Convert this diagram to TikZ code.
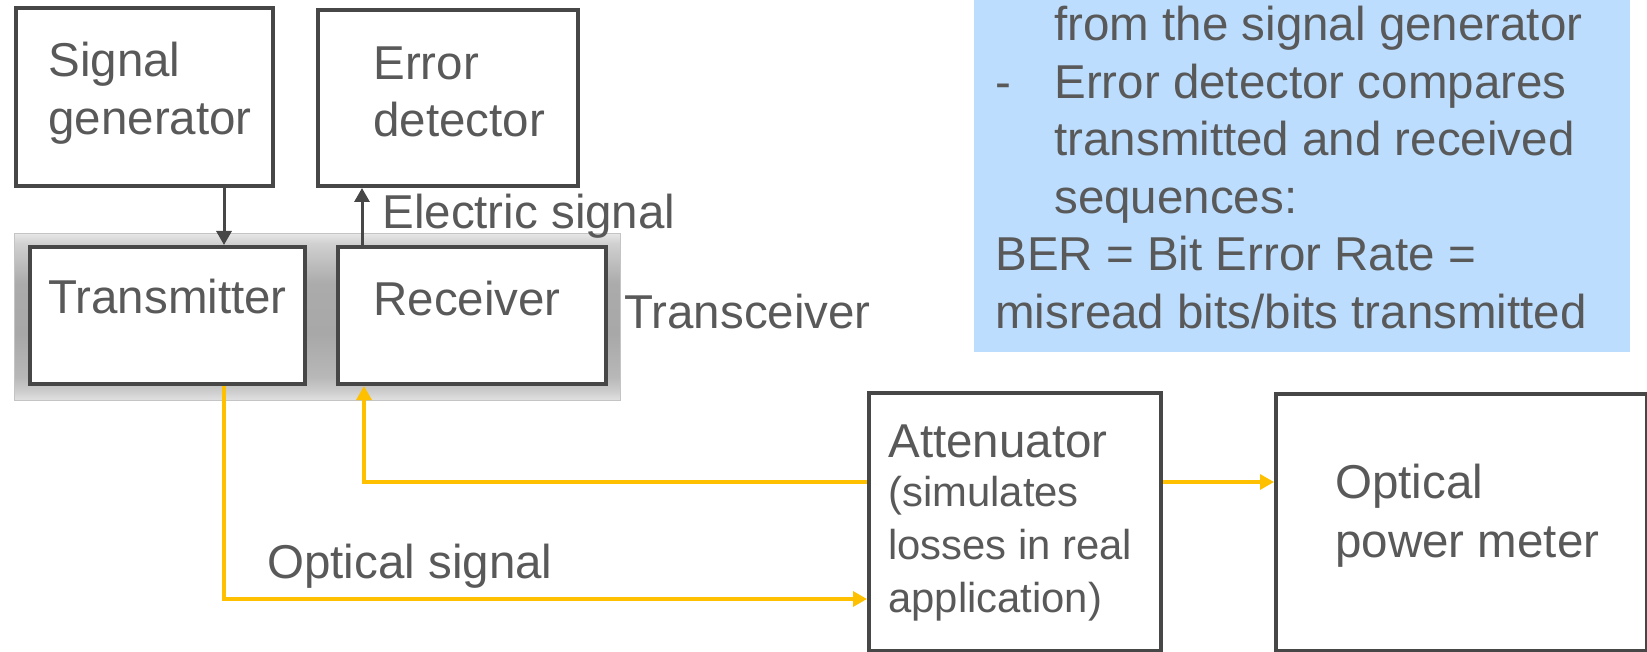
\documentclass[tikz,border=0pt]{standalone}
\usepackage{fontspec}
\setmainfont{Liberation Sans}
\usetikzlibrary{arrows.meta}

\definecolor{txtgray}{HTML}{595959}
\definecolor{edgegray}{HTML}{474747}
\definecolor{optyellow}{HTML}{FFC000}
\definecolor{noteblue}{HTML}{BCDDFD}

% vertical grey fall-off of the transceiver housing (25bp = bottom, 75bp = top)
\definecolor{hsA}{HTML}{E2E2E2}
\definecolor{hsB}{HTML}{CCCCCC}
\definecolor{hsC}{HTML}{B8B8B8}
\definecolor{hsD}{HTML}{A8A8A8}
\definecolor{hsE}{HTML}{ABABAB}
\definecolor{hsF}{HTML}{D0D0D0}
\definecolor{hsG}{HTML}{E6E6E6}
\pgfdeclareverticalshading{housing}{100bp}{%
  color(0bp)=(hsA); color(25bp)=(hsA); color(28bp)=(hsB); color(32bp)=(hsC);
  color(45bp)=(hsD); color(60bp)=(hsE); color(72bp)=(hsF); color(75bp)=(hsG);
  color(100bp)=(hsG)}

\tikzset{
  blk/.style={draw=edgegray, line width=2pt, fill=white, inner sep=0pt, anchor=north west},
  % captions are anchored at the baseline of their last line
  txt/.style={text=txtgray, inner sep=0pt, anchor=base west, align=left,
              font=\fontsize{23.75pt}{#1}\selectfont},
  txt/.default=29pt,
  smalltxt/.style={txt, font=\fontsize{20.9pt}{26.4pt}\selectfont},
  elec/.style={draw=edgegray, line width=1.5pt, -{Triangle[width=7.5pt,length=7pt]}},
  opt/.style={draw=optyellow, line width=1.6pt, -{Triangle[width=7.5pt,length=7pt]}},
}

\begin{document}
\begin{tikzpicture}[x=0.5pt, y=-0.5pt]
\useasboundingbox (0,0) rectangle (1647,652);

% transceiver housing
\node[shading=housing, draw=black!23, line width=0.6pt, inner sep=0pt, anchor=north west,
      minimum width=303pt, minimum height=83.5pt] (panel) at (14,233) {};

% blocks
\node[blk, minimum width=128.5pt, minimum height=89pt] (sg) at (14,6) {};
\node[blk, minimum width=130pt, minimum height=88pt] (ed) at (316,8) {};
\node[blk, minimum width=137.5pt, minimum height=68.5pt] (tx) at (28,245) {};
\node[blk, minimum width=134pt, minimum height=68.5pt] (rx) at (336,245) {};
\node[blk, minimum width=146pt, minimum height=129pt] (att) at (867,391) {};
\node[blk, minimum width=185.5pt, minimum height=128.5pt] (pm) at (1274,392) {};

% explanatory note
\node[fill=noteblue, inner sep=0pt, anchor=north west,
      minimum width=328pt, minimum height=176pt] (note) at (974,0) {};

% block captions
\node[txt] (sgt) at (48,135) {Signal\\generator};
\node[txt=28.5pt] (edt) at (373,137) {Error\\detector};
\node[txt] (txt1) at (48,313) {Transmitter};
\node[txt] (rxt) at (373,315) {Receiver};
\node[txt] (trt) at (624,328) {Transceiver};
\node[txt] (attt) at (888,457) {Attenuator};
\node[smalltxt] (attd) at (888,612) {(simulates\\losses in real\\application)};
\node[txt=29.25pt] (pmt) at (1335,557) {Optical\\power meter};

% signal labels
\node[txt] (elt) at (382,228) {Electric signal};
\node[txt] (opl) at (267,578) {Optical signal};

% note text
\node[txt=28.75pt] (notet) at (995,328) {%
  \hspace*{29.5pt}from the signal generator\\
  \makebox[29.5pt][l]{-}Error detector compares\\
  \hspace*{29.5pt}transmitted and received\\
  \hspace*{29.5pt}sequences:\\
  BER = Bit Error Rate =\\
  misread bits/bits transmitted};

% electrical connections
\coordinate (ein) at (224,0);
\coordinate (eout) at (362,0);
\draw[elec] (sg.south -| ein) -- (tx.north -| ein);
\draw[elec] (rx.north -| eout) -- (ed.south -| eout);

% optical connections
\coordinate (lowrun) at (224,599);
\coordinate (midrun) at (364,482);
\draw[opt] (tx.south -| lowrun) |- (att.west |- lowrun);
\draw[opt] (att.west |- midrun) -| (rx.south -| midrun);
\draw[opt] (att.east |- midrun) -- (pm.west |- midrun);
\end{tikzpicture}
\end{document}
